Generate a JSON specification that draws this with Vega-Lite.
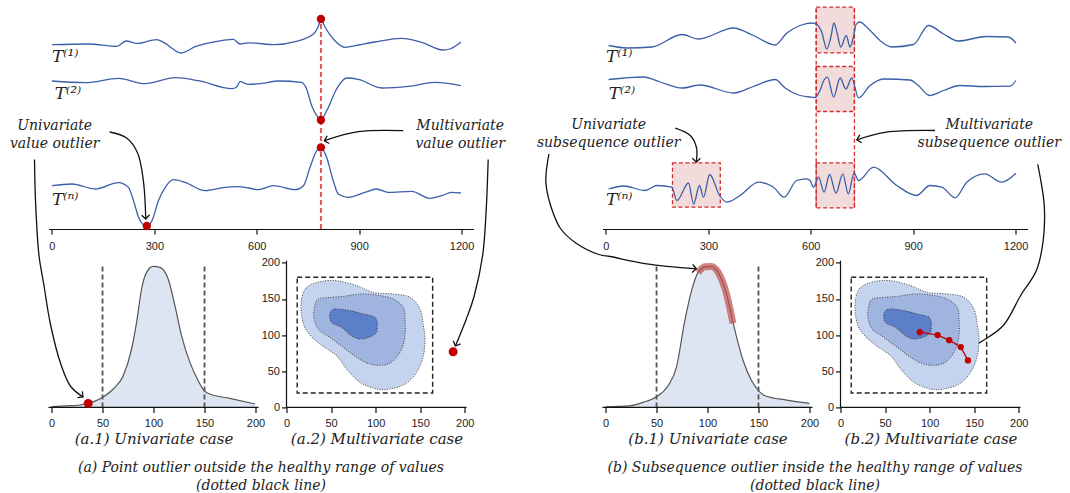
{
  "$schema": "https://vega.github.io/schema/vega-lite/v6.json",
  "background": "white",
  "padding": {"left": 7.5, "top": 6, "right": 2, "bottom": 2},
  "bounds": "flush",
  "align": "each",
  "columns": 3,
  "spacing": {"column": 28, "row": 32.4},
  "config": {
    "view": {"stroke": null},
    "axis": {"grid": false, "domainColor": "#111", "domainWidth": 1.2, "tickColor": "#111", "tickWidth": 1.2, "tickSize": 5, "format": "d",
      "labelFont": "Liberation Sans", "labelFontSize": 11, "labelColor": "#222", "labelFlush": false, "labelPadding": 5,
      "titleFont": "DejaVu Serif", "titleFontStyle": "italic", "titleFontWeight": "normal", "titleFontSize": 15, "titleColor": "#222", "titlePadding": 3}
  },
  "datasets": {
    "tsA": [
      {"s":"T1","t":0,"v":184.3},{"s":"T1","t":107,"v":185},{"s":"T1","t":190,"v":182.6},{"s":"T1","t":217,"v":188},{"s":"T1","t":249,"v":185.6},{"s":"T1","t":307,"v":189.3},{"s":"T1","t":327,"v":186.6},{"s":"T1","t":379,"v":176},{"s":"T1","t":420,"v":182.3},{"s":"T1","t":468,"v":186.6},{"s":"T1","t":532,"v":189.6},{"s":"T1","t":551,"v":185},{"s":"T1","t":576,"v":186.2},{"s":"T1","t":654,"v":184.3},{"s":"T1","t":712,"v":187.3},{"s":"T1","t":766,"v":195},{"s":"T1","t":781,"v":203.3},{"s":"T1","t":788,"v":210},{"s":"T1","t":798,"v":203.3},{"s":"T1","t":829,"v":188.3},{"s":"T1","t":859,"v":181.6},{"s":"T1","t":898,"v":184},{"s":"T1","t":946,"v":187},{"s":"T1","t":1024,"v":190.6},{"s":"T1","t":1083,"v":186.6},{"s":"T1","t":1146,"v":179},{"s":"T1","t":1166,"v":180},{"s":"T1","t":1198,"v":187},
      {"s":"T2","t":0,"v":148},{"s":"T2","t":98,"v":146.3},{"s":"T2","t":195,"v":150.6},{"s":"T2","t":273,"v":145.3},{"s":"T2","t":361,"v":151.3},{"s":"T2","t":429,"v":148.3},{"s":"T2","t":527,"v":140.3},{"s":"T2","t":542,"v":142.3},{"s":"T2","t":551,"v":147.3},{"s":"T2","t":576,"v":144.6},{"s":"T2","t":615,"v":145.6},{"s":"T2","t":663,"v":148},{"s":"T2","t":732,"v":146.6},{"s":"T2","t":746,"v":140},{"s":"T2","t":761,"v":123.3},{"s":"T2","t":776,"v":113.3},{"s":"T2","t":788,"v":109},{"s":"T2","t":805,"v":118.3},{"s":"T2","t":834,"v":140},{"s":"T2","t":863,"v":151},{"s":"T2","t":898,"v":149.6},{"s":"T2","t":966,"v":141},{"s":"T2","t":1044,"v":142.6},{"s":"T2","t":1122,"v":146.6},{"s":"T2","t":1198,"v":143.3},
      {"s":"Tn","t":0,"v":43.3},{"s":"Tn","t":59,"v":45},{"s":"Tn","t":127,"v":40},{"s":"Tn","t":195,"v":46.3},{"s":"Tn","t":224,"v":41.6},{"s":"Tn","t":239,"v":28.3},{"s":"Tn","t":254,"v":11.6},{"s":"Tn","t":268,"v":4.3},{"s":"Tn","t":278,"v":3},{"s":"Tn","t":293,"v":8.3},{"s":"Tn","t":312,"v":28.3},{"s":"Tn","t":332,"v":41.6},{"s":"Tn","t":356,"v":49.3},{"s":"Tn","t":390,"v":46.6},{"s":"Tn","t":449,"v":38.3},{"s":"Tn","t":507,"v":41.6},{"s":"Tn","t":546,"v":42.3},{"s":"Tn","t":576,"v":41},{"s":"Tn","t":605,"v":39.3},{"s":"Tn","t":649,"v":43.3},{"s":"Tn","t":712,"v":39.3},{"s":"Tn","t":737,"v":43.3},{"s":"Tn","t":756,"v":61.6},{"s":"Tn","t":776,"v":78.3},{"s":"Tn","t":788,"v":81.6},{"s":"Tn","t":805,"v":71.6},{"s":"Tn","t":824,"v":48.3},{"s":"Tn","t":839,"v":35},{"s":"Tn","t":868,"v":31.6},{"s":"Tn","t":917,"v":36.6},{"s":"Tn","t":951,"v":40},{"s":"Tn","t":985,"v":36.6},{"s":"Tn","t":1054,"v":37.6},{"s":"Tn","t":1107,"v":30.6},{"s":"Tn","t":1142,"v":33.3},{"s":"Tn","t":1171,"v":36.6},{"s":"Tn","t":1198,"v":36}
    ],
    "tsB": [
      {"s":"T1","t":8,"v":183.5},{"s":"T1","t":62,"v":181},{"s":"T1","t":135,"v":182},{"s":"T1","t":223,"v":194.5},{"s":"T1","t":271,"v":190},{"s":"T1","t":374,"v":201},{"s":"T1","t":432,"v":193.5},{"s":"T1","t":496,"v":184},{"s":"T1","t":530,"v":196},{"s":"T1","t":569,"v":203.5},{"s":"T1","t":603,"v":206},{"s":"T1","t":618,"v":204.5},{"s":"T1","t":632,"v":197},{"s":"T1","t":647,"v":180},{"s":"T1","t":659,"v":192},{"s":"T1","t":668,"v":206},{"s":"T1","t":678,"v":195},{"s":"T1","t":688,"v":182},{"s":"T1","t":704,"v":193.5},{"s":"T1","t":715,"v":182},{"s":"T1","t":725,"v":192},{"s":"T1","t":733,"v":204.5},{"s":"T1","t":743,"v":207},{"s":"T1","t":774,"v":198.5},{"s":"T1","t":808,"v":187},{"s":"T1","t":837,"v":182},{"s":"T1","t":901,"v":184.5},{"s":"T1","t":945,"v":203.5},{"s":"T1","t":989,"v":195},{"s":"T1","t":1032,"v":188},{"s":"T1","t":1115,"v":192.5},{"s":"T1","t":1179,"v":192},{"s":"T1","t":1201,"v":186},
      {"s":"T2","t":8,"v":149.5},{"s":"T2","t":110,"v":152},{"s":"T2","t":159,"v":147},{"s":"T2","t":223,"v":141},{"s":"T2","t":276,"v":144},{"s":"T2","t":374,"v":136},{"s":"T2","t":432,"v":142.5},{"s":"T2","t":496,"v":149.5},{"s":"T2","t":525,"v":141},{"s":"T2","t":569,"v":133.5},{"s":"T2","t":603,"v":131.8},{"s":"T2","t":613,"v":131.5},{"s":"T2","t":627,"v":138.5},{"s":"T2","t":639,"v":149},{"s":"T2","t":649,"v":151.8},{"s":"T2","t":667,"v":131.8},{"s":"T2","t":686,"v":151},{"s":"T2","t":703,"v":140},{"s":"T2","t":720,"v":151},{"s":"T2","t":740,"v":131.2},{"s":"T2","t":774,"v":143.5},{"s":"T2","t":813,"v":150},{"s":"T2","t":891,"v":149},{"s":"T2","t":915,"v":143.5},{"s":"T2","t":948,"v":133.5},{"s":"T2","t":989,"v":138.5},{"s":"T2","t":1037,"v":143.5},{"s":"T2","t":1106,"v":142.5},{"s":"T2","t":1184,"v":142.8},{"s":"T2","t":1201,"v":148.5},
      {"s":"Tn","t":8,"v":40},{"s":"Tn","t":52,"v":43},{"s":"Tn","t":115,"v":38.5},{"s":"Tn","t":149,"v":43.5},{"s":"Tn","t":193,"v":41.8},{"s":"Tn","t":208,"v":28.5},{"s":"Tn","t":242,"v":46},{"s":"Tn","t":257,"v":25},{"s":"Tn","t":274,"v":43.5},{"s":"Tn","t":286,"v":31.8},{"s":"Tn","t":304,"v":54.5},{"s":"Tn","t":333,"v":33.5},{"s":"Tn","t":354,"v":26.8},{"s":"Tn","t":393,"v":33.5},{"s":"Tn","t":447,"v":46.8},{"s":"Tn","t":491,"v":41.8},{"s":"Tn","t":522,"v":31.8},{"s":"Tn","t":559,"v":48.5},{"s":"Tn","t":588,"v":50.2},{"s":"Tn","t":598,"v":48.5},{"s":"Tn","t":608,"v":41.8},{"s":"Tn","t":623,"v":51.8},{"s":"Tn","t":639,"v":36.8},{"s":"Tn","t":655,"v":54.5},{"s":"Tn","t":674,"v":35.8},{"s":"Tn","t":694,"v":55.2},{"s":"Tn","t":710,"v":35.2},{"s":"Tn","t":727,"v":56.2},{"s":"Tn","t":740,"v":48.5},{"s":"Tn","t":784,"v":61.8},{"s":"Tn","t":852,"v":43.5},{"s":"Tn","t":910,"v":33.5},{"s":"Tn","t":949,"v":43.5},{"s":"Tn","t":984,"v":41.8},{"s":"Tn","t":1023,"v":31.2},{"s":"Tn","t":1057,"v":46.8},{"s":"Tn","t":1110,"v":55.2},{"s":"Tn","t":1159,"v":46.8},{"s":"Tn","t":1201,"v":55.8}
    ],
    "dotsA": [{"t":788,"v":210},{"t":788,"v":109},{"t":788,"v":81.6},{"t":278,"v":3}],
    "labTop": [{"t":0,"v":166.6,"label":"T⁽¹⁾"},{"t":8,"v":130,"label":"T⁽²⁾"},{"t":0,"v":24.3,"label":"T⁽ⁿ⁾"}],
    "annA": [{"t":8,"v":99.3,"label":"Univariate\nvalue  outlier"},{"t":1196,"v":99.3,"label":"Multivariate\nvalue  outlier"}],
    "annB": [{"t":8,"v":99.8,"label":"Univariate\nsubsequence  outlier"},{"t":1123,"v":99.8,"label":"Multivariate\nsubsequence  outlier"}],
    "arrA": [
      {"id":"a1","i":0,"t":169,"v":97},{"id":"a1","i":1,"t":219,"v":91},{"id":"a1","i":2,"t":251,"v":76},{"id":"a1","i":3,"t":268,"v":48},{"id":"a1","i":4,"t":275,"v":10},
      {"id":"a2","i":0,"t":-51,"v":69.6},{"id":"a2","i":1,"t":-48,"v":28},{"id":"a2","i":2,"t":-38,"v":-26},{"id":"a2","i":3,"t":-24,"v":-55},{"id":"a2","i":4,"t":-5,"v":-94},{"id":"a2","i":5,"t":25,"v":-134},{"id":"a2","i":6,"t":54,"v":-157},{"id":"a2","i":7,"t":91,"v":-168},
      {"id":"a3","i":0,"t":1029,"v":98.3},{"id":"a3","i":1,"t":898,"v":97.3},{"id":"a3","i":2,"t":798,"v":88.3},
      {"id":"a4","i":0,"t":1278,"v":69.6},{"id":"a4","i":1,"t":1272,"v":18},{"id":"a4","i":2,"t":1262,"v":-26},{"id":"a4","i":3,"t":1237,"v":-67},{"id":"a4","i":4,"t":1214,"v":-90},{"id":"a4","i":5,"t":1182,"v":-117}
    ],
    "headA": [{"t":275,"v":10,"ang":87},{"t":91,"v":-168,"ang":38},{"t":798,"v":88.3,"ang":165},{"t":1182,"v":-117,"ang":112}],
    "arrB": [
      {"id":"b1","i":0,"t":203,"v":100.8},{"id":"b1","i":1,"t":247,"v":93.5},{"id":"b1","i":2,"t":265,"v":81.8},{"id":"b1","i":3,"t":265,"v":66.8},
      {"id":"b2","i":0,"t":-167,"v":75},{"id":"b2","i":1,"t":-176,"v":47.5},{"id":"b2","i":2,"t":-162,"v":23.5},{"id":"b2","i":3,"t":-133,"v":0.5},{"id":"b2","i":4,"t":-86,"v":-14.5},{"id":"b2","i":5,"t":-21,"v":-25.5},{"id":"b2","i":6,"t":12,"v":-27.5},{"id":"b2","i":7,"t":119,"v":-34.8},{"id":"b2","i":8,"t":265,"v":-39.8},
      {"id":"b3","i":0,"t":964,"v":98.5},{"id":"b3","i":1,"t":822,"v":96.8},{"id":"b3","i":2,"t":735,"v":89.2},
      {"id":"b4","i":0,"t":1265,"v":64.7},{"id":"b4","i":1,"t":1284,"v":23.5},{"id":"b4","i":2,"t":1281,"v":-11.5},{"id":"b4","i":3,"t":1261,"v":-41.5},{"id":"b4","i":4,"t":1215,"v":-66.5},{"id":"b4","i":5,"t":1164,"v":-96.5},{"id":"b4","i":6,"t":1105,"v":-111.5},{"id":"b4","i":7,"t":1053,"v":-121.5}
    ],
    "headB": [{"t":265,"v":66.8,"ang":90},{"t":265,"v":-39.8,"ang":4},{"t":735,"v":89.2,"ang":166},{"t":1053,"v":-121.5,"ang":151}],
    "boxB": [{"t":195,"t2":335,"v":21.8,"v2":66.2},{"t":616,"t2":728,"v":176.2,"v2":221.8},{"t":616,"t2":728,"v":117.5,"v2":162.5},{"t":616,"t2":728,"v":21.2,"v2":66.2}],
    "densA": [{"x":0,"y":0.7},{"x":15,"y":1.5},{"x":27.8,"y":2.4},{"x":36,"y":4},{"x":42,"y":6},{"x":49.7,"y":10},{"x":60.5,"y":18.4},{"x":70.3,"y":31.7},{"x":78.5,"y":58.4},{"x":83.4,"y":85},{"x":88.3,"y":118.4},{"x":93.2,"y":135},{"x":99.7,"y":141},{"x":106.3,"y":140},{"x":114.4,"y":128.4},{"x":121,"y":101.7},{"x":127.5,"y":71.7},{"x":135.7,"y":45},{"x":143.8,"y":26.7},{"x":149.7,"y":16.7},{"x":155.2,"y":13.4},{"x":174.8,"y":9},{"x":199.7,"y":3.4}],
    "densB": [{"x":0,"y":0.6},{"x":23.6,"y":1.6},{"x":36.7,"y":5},{"x":49.9,"y":10.6},{"x":61.3,"y":21.6},{"x":69.5,"y":40},{"x":77.7,"y":86.6},{"x":84.3,"y":116.6},{"x":90.8,"y":135},{"x":97.4,"y":140.6},{"x":104,"y":141},{"x":110.5,"y":135},{"x":118.7,"y":113.3},{"x":127,"y":76.6},{"x":135,"y":46.6},{"x":143.3,"y":26.6},{"x":150.2,"y":16.6},{"x":156.4,"y":11.6},{"x":177.7,"y":7.3},{"x":200,"y":4}],
    "hiB": [{"x":90.8,"y":135},{"x":97.4,"y":140.6},{"x":104,"y":141},{"x":110.5,"y":135},{"x":118.7,"y":113.3},{"x":125,"y":84}],
    "healthy": [{"x":50,"y":0,"y2":142},{"x":150,"y":0,"y2":142}],
    "cont": [
      {"lvl":"outer","i":0,"x":16.9,"y":149.9},{"lvl":"outer","i":1,"x":22.5,"y":166},{"lvl":"outer","i":2,"x":37.5,"y":173.9},{"lvl":"outer","i":3,"x":56.2,"y":175.3},{"lvl":"outer","i":4,"x":78.7,"y":168.4},{"lvl":"outer","i":5,"x":97.4,"y":159.1},{"lvl":"outer","i":6,"x":119.9,"y":156.9},{"lvl":"outer","i":7,"x":138.6,"y":152.3},{"lvl":"outer","i":8,"x":149.8,"y":136.1},{"lvl":"outer","i":9,"x":153.6,"y":113.2},{"lvl":"outer","i":10,"x":155.4,"y":94.6},{"lvl":"outer","i":11,"x":153.6,"y":71.6},{"lvl":"outer","i":12,"x":146.1,"y":48.5},{"lvl":"outer","i":13,"x":133,"y":32.4},{"lvl":"outer","i":14,"x":116.1,"y":25.5},{"lvl":"outer","i":15,"x":101.1,"y":25.5},{"lvl":"outer","i":16,"x":82.4,"y":34.7},{"lvl":"outer","i":17,"x":67.4,"y":53.2},{"lvl":"outer","i":18,"x":56.2,"y":71.6},{"lvl":"outer","i":19,"x":37.5,"y":87.7},{"lvl":"outer","i":20,"x":22.5,"y":106.2},{"lvl":"outer","i":21,"x":16.9,"y":126.9},
      {"lvl":"mid","i":0,"x":31.8,"y":140.6},{"lvl":"mid","i":1,"x":35.6,"y":149.9},{"lvl":"mid","i":2,"x":48.7,"y":152.2},{"lvl":"mid","i":3,"x":63.7,"y":153.6},{"lvl":"mid","i":4,"x":82.4,"y":156.9},{"lvl":"mid","i":5,"x":101.1,"y":155.5},{"lvl":"mid","i":6,"x":119.9,"y":149.9},{"lvl":"mid","i":7,"x":131.1,"y":138.4},{"lvl":"mid","i":8,"x":133,"y":122.3},{"lvl":"mid","i":9,"x":133,"y":99.3},{"lvl":"mid","i":10,"x":129.2,"y":80.8},{"lvl":"mid","i":11,"x":119.9,"y":64.6},{"lvl":"mid","i":12,"x":108.6,"y":58.6},{"lvl":"mid","i":13,"x":93.6,"y":60},{"lvl":"mid","i":14,"x":78.7,"y":69.2},{"lvl":"mid","i":15,"x":63.7,"y":83},{"lvl":"mid","i":16,"x":48.7,"y":96.8},{"lvl":"mid","i":17,"x":35.6,"y":108.3},{"lvl":"mid","i":18,"x":30.7,"y":124.4},
      {"lvl":"inner","i":0,"x":48.7,"y":129.2},{"lvl":"inner","i":1,"x":54.3,"y":136.1},{"lvl":"inner","i":2,"x":71.2,"y":133.9},{"lvl":"inner","i":3,"x":86.1,"y":129.2},{"lvl":"inner","i":4,"x":99.3,"y":124.6},{"lvl":"inner","i":5,"x":101.9,"y":113.1},{"lvl":"inner","i":6,"x":99.3,"y":101.6},{"lvl":"inner","i":7,"x":84.3,"y":94.6},{"lvl":"inner","i":8,"x":73,"y":99.2},{"lvl":"inner","i":9,"x":61.8,"y":110.7},{"lvl":"inner","i":10,"x":50.6,"y":117.6}
    ],
    "trajB": [{"i":0,"x":89,"y":104},{"i":1,"x":109,"y":100},{"i":2,"x":122,"y":93},{"i":3,"x":135,"y":83.5},{"i":4,"x":143,"y":65}]
  },
  "concat": [
    {
      "width": 425, "height": 220,
      "encoding": {
        "x": {"field": "t", "type": "quantitative", "scale": {"domain": [-10, 1235], "nice": false, "zero": false}, "axis": {"values": [0, 300, 600, 900, 1200], "title": null, "labelPadding": 6}},
        "y": {"field": "v", "type": "quantitative", "scale": {"domain": [0, 220], "nice": false, "zero": false}, "axis": null}
      },
      "layer": [
        {"data": {"name": "tsA"}, "mark": {"type": "line", "interpolate": "monotone", "color": "#3b5ea8", "strokeWidth": 1.3}, "encoding": {"detail": {"field": "s"}}},
        {"data": {"values": [{"t": 788, "v": 0, "v2": 210}]}, "mark": {"type": "rule", "color": "#e05555", "strokeDash": [5, 3], "strokeWidth": 2}, "encoding": {"y2": {"field": "v2"}}},
        {"data": {"name": "dotsA"}, "mark": {"type": "point", "filled": true, "color": "#c00000", "size": 70, "opacity": 1}},
        {"data": {"name": "labTop"}, "mark": {"type": "text", "align": "left", "baseline": "alphabetic", "font": "DejaVu Serif", "fontStyle": "italic", "fontSize": 17, "color": "#222"}, "encoding": {"text": {"field": "label"}}},
        {"data": {"name": "annA"}, "mark": {"type": "text", "align": "center", "baseline": "alphabetic", "lineBreak": "\n", "lineHeight": 18, "font": "DejaVu Serif", "fontStyle": "italic", "fontSize": 14, "color": "#222"}, "encoding": {"text": {"field": "label"}}},
        {"data": {"name": "arrA"}, "mark": {"type": "line", "interpolate": "catmull-rom", "color": "#111", "strokeWidth": 1.3}, "encoding": {"detail": {"field": "id"}, "order": {"field": "i"}}},
        {"data": {"name": "headA"}, "mark": {"type": "point", "shape": "M-1,-1L0,0L-1,1", "filled": false, "stroke": "#111", "strokeWidth": 1.3, "size": 64, "opacity": 1}, "encoding": {"angle": {"field": "ang", "type": "quantitative", "scale": null}}}
      ]
    },
    {"width": 73, "height": 220, "data": {"values": []}, "mark": "point"},
    {
      "width": 425, "height": 220,
      "encoding": {
        "x": {"field": "t", "type": "quantitative", "scale": {"domain": [-10, 1235], "nice": false, "zero": false}, "axis": {"values": [0, 300, 600, 900, 1200], "title": null, "labelPadding": 6}},
        "y": {"field": "v", "type": "quantitative", "scale": {"domain": [0, 220], "nice": false, "zero": false}, "axis": null}
      },
      "layer": [
        {"data": {"name": "boxB"}, "mark": {"type": "rect", "fill": "#f2dcdb", "stroke": "#d42a2a", "strokeDash": [4, 2.5], "strokeWidth": 1.3}, "encoding": {"x2": {"field": "t2"}, "y2": {"field": "v2"}}},
        {"data": {"values": [{"t": 616, "v": 21.2, "v2": 221.8}, {"t": 728, "v": 21.2, "v2": 221.8}]}, "mark": {"type": "rule", "color": "#d42a2a", "strokeDash": [4, 2.5], "strokeWidth": 1.3}, "encoding": {"y2": {"field": "v2"}}},
        {"data": {"name": "tsB"}, "mark": {"type": "line", "interpolate": "monotone", "color": "#3b5ea8", "strokeWidth": 1.3}, "encoding": {"detail": {"field": "s"}}},
        {"data": {"name": "labTop"}, "mark": {"type": "text", "align": "left", "baseline": "alphabetic", "font": "DejaVu Serif", "fontStyle": "italic", "fontSize": 17, "color": "#222"}, "encoding": {"text": {"field": "label"}}},
        {"data": {"name": "annB"}, "mark": {"type": "text", "align": "center", "baseline": "alphabetic", "lineBreak": "\n", "lineHeight": 18, "font": "DejaVu Serif", "fontStyle": "italic", "fontSize": 14, "color": "#222"}, "encoding": {"text": {"field": "label"}}},
        {"data": {"name": "arrB"}, "mark": {"type": "line", "interpolate": "catmull-rom", "color": "#111", "strokeWidth": 1.3}, "encoding": {"detail": {"field": "id"}, "order": {"field": "i"}}},
        {"data": {"name": "headB"}, "mark": {"type": "point", "shape": "M-1,-1L0,0L-1,1", "filled": false, "stroke": "#111", "strokeWidth": 1.3, "size": 64, "opacity": 1}, "encoding": {"angle": {"field": "ang", "type": "quantitative", "scale": null}}}
      ]
    },
    {
      "width": 418, "height": 146,
      "resolve": {"scale": {"x": "independent", "y": "independent"}, "axis": {"x": "independent", "y": "independent"}},
      "layer": [
        {
          "encoding": {
            "x": {"field": "x", "type": "quantitative", "scale": {"domain": [-3, 407], "nice": false, "zero": false}, "axis": {"orient": "bottom", "domain": false, "values": [0, 50, 100, 150, 200], "title": "(a.1) Univariate case", "titleX": 105}},
            "y": {"field": "y", "type": "quantitative", "scale": {"domain": [0, 146], "nice": false}, "axis": null}
          },
          "layer": [
            {"data": {"name": "densA"}, "mark": {"type": "area", "interpolate": "monotone", "color": "#dde5f3"}},
            {"data": {"name": "densA"}, "mark": {"type": "line", "interpolate": "monotone", "color": "#555", "strokeWidth": 1.2}},
            {"data": {"name": "healthy"}, "mark": {"type": "rule", "color": "#555", "strokeDash": [5, 3], "strokeWidth": 1.8}, "encoding": {"y2": {"field": "y2"}}},
            {"data": {"values": [{"x": -3, "x2": 203, "y": 0}]}, "mark": {"type": "rule", "color": "#111", "strokeWidth": 1.2}, "encoding": {"x2": {"field": "x2"}}},
            {"data": {"values": [{"x": 36, "y": 4}]}, "mark": {"type": "point", "filled": true, "color": "#c00000", "size": 80, "opacity": 1}}
          ]
        },
        {
          "encoding": {
            "x": {"field": "x", "type": "quantitative", "scale": {"domain": [-267.1, 202], "nice": false, "zero": false}, "axis": {"orient": "bottom", "domain": false, "values": [0, 50, 100, 150, 200], "title": "(a.2) Multivariate case", "titleX": 328}},
            "y": {"field": "y", "type": "quantitative", "scale": {"domain": [0, 202], "nice": false}, "axis": {"orient": "left", "offset": -238, "domain": false, "values": [0, 50, 100, 150, 200], "title": null, "labelPadding": 2}}
          },
          "layer": [
            {"data": {"name": "cont"}, "transform": [{"filter": "datum.lvl === 'outer'"}], "mark": {"type": "line", "interpolate": "cardinal-closed", "fill": "#c5d4ee", "stroke": "#444", "strokeDash": [1, 1.5], "strokeWidth": 1}, "encoding": {"order": {"field": "i"}}},
            {"data": {"name": "cont"}, "transform": [{"filter": "datum.lvl === 'mid'"}], "mark": {"type": "line", "interpolate": "cardinal-closed", "fill": "#9fb5e0", "stroke": "#444", "strokeDash": [1, 1.5], "strokeWidth": 1}, "encoding": {"order": {"field": "i"}}},
            {"data": {"name": "cont"}, "transform": [{"filter": "datum.lvl === 'inner'"}], "mark": {"type": "line", "interpolate": "cardinal-closed", "fill": "#5b7fc8", "stroke": "#333", "strokeDash": [1, 1.5], "strokeWidth": 1}, "encoding": {"order": {"field": "i"}}},
            {"data": {"values": [{"x": 12, "x2": 164, "y": 20, "y2": 180}]}, "mark": {"type": "rect", "fill": null, "fillOpacity": 0, "stroke": "#222", "strokeDash": [5, 3], "strokeWidth": 1.4}, "encoding": {"x2": {"field": "x2"}, "y2": {"field": "y2"}}},
            {"data": {"values": [{"x": 0, "x2": 202, "y": 0}]}, "mark": {"type": "rule", "color": "#111", "strokeWidth": 1.2}, "encoding": {"x2": {"field": "x2"}}},
            {"data": {"values": [{"x": 0, "y": 0, "y2": 203}]}, "mark": {"type": "rule", "color": "#111", "strokeWidth": 1.2}, "encoding": {"y2": {"field": "y2"}}},
            {"data": {"values": [{"x": 187, "y": 77}]}, "mark": {"type": "point", "filled": true, "color": "#c00000", "size": 80, "opacity": 1}}
          ]
        }
      ]
    },
    {"width": 73, "height": 146, "data": {"values": []}, "mark": "point"},
    {
      "width": 418, "height": 146,
      "resolve": {"scale": {"x": "independent", "y": "independent"}, "axis": {"x": "independent", "y": "independent"}},
      "layer": [
        {
          "encoding": {
            "x": {"field": "x", "type": "quantitative", "scale": {"domain": [-3, 407], "nice": false, "zero": false}, "axis": {"orient": "bottom", "domain": false, "values": [0, 50, 100, 150, 200], "title": "(b.1) Univariate case", "titleX": 105}},
            "y": {"field": "y", "type": "quantitative", "scale": {"domain": [0, 146], "nice": false}, "axis": null}
          },
          "layer": [
            {"data": {"name": "densB"}, "mark": {"type": "area", "interpolate": "monotone", "color": "#dde5f3"}},
            {"data": {"name": "densB"}, "mark": {"type": "line", "interpolate": "monotone", "color": "#555", "strokeWidth": 1.2}},
            {"data": {"name": "healthy"}, "mark": {"type": "rule", "color": "#555", "strokeDash": [5, 3], "strokeWidth": 1.8}, "encoding": {"y2": {"field": "y2"}}},
            {"data": {"values": [{"x": -3, "x2": 203, "y": 0}]}, "mark": {"type": "rule", "color": "#111", "strokeWidth": 1.2}, "encoding": {"x2": {"field": "x2"}}},
            {"data": {"name": "hiB"}, "mark": {"type": "line", "interpolate": "monotone", "color": "#c0504d", "strokeWidth": 7, "opacity": 0.7, "strokeCap": "butt"}}
          ]
        },
        {
          "encoding": {
            "x": {"field": "x", "type": "quantitative", "scale": {"domain": [-267.1, 202], "nice": false, "zero": false}, "axis": {"orient": "bottom", "domain": false, "values": [0, 50, 100, 150, 200], "title": "(b.2) Multivariate case", "titleX": 328}},
            "y": {"field": "y", "type": "quantitative", "scale": {"domain": [0, 202], "nice": false}, "axis": {"orient": "left", "offset": -238, "domain": false, "values": [0, 50, 100, 150, 200], "title": null, "labelPadding": 2}}
          },
          "layer": [
            {"data": {"name": "cont"}, "transform": [{"filter": "datum.lvl === 'outer'"}], "mark": {"type": "line", "interpolate": "cardinal-closed", "fill": "#c5d4ee", "stroke": "#444", "strokeDash": [1, 1.5], "strokeWidth": 1}, "encoding": {"order": {"field": "i"}}},
            {"data": {"name": "cont"}, "transform": [{"filter": "datum.lvl === 'mid'"}], "mark": {"type": "line", "interpolate": "cardinal-closed", "fill": "#9fb5e0", "stroke": "#444", "strokeDash": [1, 1.5], "strokeWidth": 1}, "encoding": {"order": {"field": "i"}}},
            {"data": {"name": "cont"}, "transform": [{"filter": "datum.lvl === 'inner'"}], "mark": {"type": "line", "interpolate": "cardinal-closed", "fill": "#5b7fc8", "stroke": "#333", "strokeDash": [1, 1.5], "strokeWidth": 1}, "encoding": {"order": {"field": "i"}}},
            {"data": {"values": [{"x": 12, "x2": 164, "y": 20, "y2": 180}]}, "mark": {"type": "rect", "fill": null, "fillOpacity": 0, "stroke": "#222", "strokeDash": [5, 3], "strokeWidth": 1.4}, "encoding": {"x2": {"field": "x2"}, "y2": {"field": "y2"}}},
            {"data": {"values": [{"x": 0, "x2": 202, "y": 0}]}, "mark": {"type": "rule", "color": "#111", "strokeWidth": 1.2}, "encoding": {"x2": {"field": "x2"}}},
            {"data": {"values": [{"x": 0, "y": 0, "y2": 203}]}, "mark": {"type": "rule", "color": "#111", "strokeWidth": 1.2}, "encoding": {"y2": {"field": "y2"}}},
            {"data": {"name": "trajB"}, "mark": {"type": "line", "color": "#c00000", "strokeWidth": 1.3}, "encoding": {"order": {"field": "i"}}},
            {"data": {"name": "trajB"}, "mark": {"type": "point", "filled": true, "color": "#c00000", "size": 40, "opacity": 1}}
          ]
        }
      ]
    },
    {"width": 425, "height": 10, "data": {"values": []}, "mark": "point",
     "title": {"text": ["(a) Point outlier outside  the healthy range of values", "(dotted black line)"], "orient": "bottom", "anchor": "middle", "frame": "group", "font": "DejaVu Serif", "fontStyle": "italic", "fontWeight": "normal", "fontSize": 14, "lineHeight": 18, "color": "#222", "offset": 11}},
    {"width": 73, "height": 10, "data": {"values": []}, "mark": "point"},
    {"width": 425, "height": 10, "data": {"values": []}, "mark": "point",
     "title": {"text": ["(b) Subsequence outlier inside the healthy range of values", "(dotted black line)"], "orient": "bottom", "anchor": "middle", "frame": "group", "font": "DejaVu Serif", "fontStyle": "italic", "fontWeight": "normal", "fontSize": 14, "lineHeight": 18, "color": "#222", "offset": 11}}
  ]
}
